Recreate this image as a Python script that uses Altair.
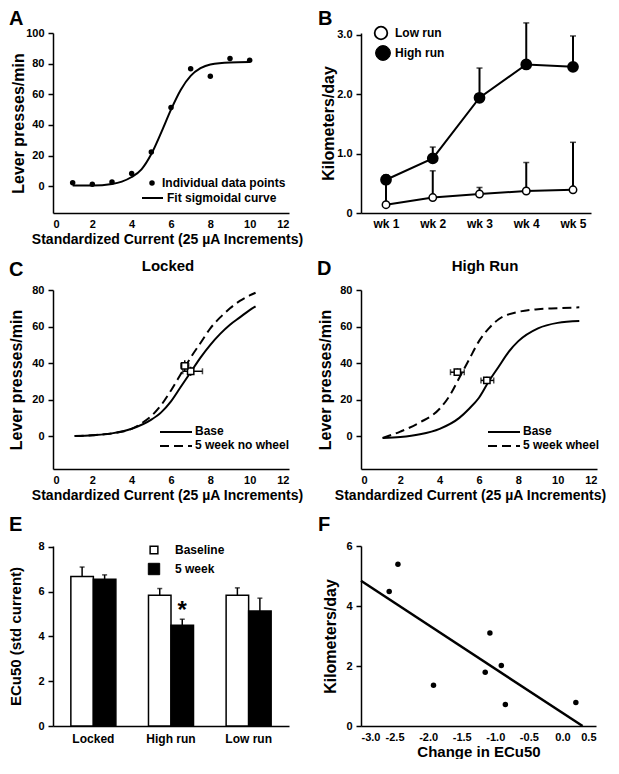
import altair as alt
import pandas as pd

FONT = "Liberation Sans"
W = 236
H = 180

# ---------------- Panel A ----------------
A_PTS_X = [1, 2, 3, 4, 5, 6, 7, 8, 9, 10]
A_PTS_Y = [2.2, 1.3, 2.8, 8.3, 22.4, 51.3, 76.7, 71.7, 83.3, 82.2]
A_FIT_X = [1, 2, 3, 3.5, 4, 4.5, 5, 5.5, 6, 6.5, 7, 7.5, 8, 9, 10]
A_FIT_Y = [0.5, 0.5, 1.5, 3, 6, 11, 21, 35, 50, 63, 72, 77, 79.5, 80.8, 81]

# ---------------- Panel B ----------------
WEEKS = [1, 2, 3, 4, 5]
HIGH_RUN = [0.56, 0.92, 1.94, 2.50, 2.46]
HIGH_RUN_ERR = [0.64, 1.11, 2.44, 3.20, 2.98]
LOW_RUN = [0.14, 0.26, 0.32, 0.37, 0.39]
LOW_RUN_ERR = [0.55, 0.71, 0.43, 0.85, 1.19]

# ---------------- Panel C ----------------
C_BASE_X = [1.1, 2, 3, 4, 5, 5.5, 6, 6.5, 7, 7.5, 8, 8.5, 9, 9.5, 10, 10.3]
C_BASE_Y = [0, 0.5, 1.5, 4, 9, 13, 19, 27, 35, 43, 50, 56, 61, 65, 69, 71]
C_WK_X = [1.1, 2, 3, 4, 4.5, 5, 5.5, 6, 6.5, 7, 7.5, 8, 8.5, 9, 9.5, 10, 10.3]
C_WK_Y = [0, 0.5, 1.5, 4, 7, 11, 17, 25, 34, 43, 51, 59, 65, 70, 74, 77, 78.5]
C_EC_X = [7.0, 6.7]
C_EC_Y = [35.5, 38.5]
C_EC_XLO = [6.6, 6.5]
C_EC_XHI = [7.6, 6.9]
C_EC_YLO = [33.0, 35.5]
C_EC_YHI = [38.0, 41.5]

# ---------------- Panel D ----------------
D_BASE_X = [1.1, 2, 3, 4, 5, 5.5, 6, 6.5, 7, 7.5, 8, 9, 10, 11.1]
D_BASE_Y = [-1, -0.5, 1, 4, 10, 15, 21, 30, 38, 46, 52, 59, 62, 63]
D_WK_X = [1.1, 2, 3, 4, 4.5, 5, 5.5, 6, 6.5, 7, 8, 9, 10, 11.1]
D_WK_Y = [-1, 2.5, 7.5, 15, 22, 32, 42, 52, 59, 64, 68, 69.5, 70, 70.5]
D_EC_X = [4.9, 6.4]
D_EC_Y = [35.0, 30.5]
D_EC_XLO = [4.55, 6.1]
D_EC_XHI = [5.25, 6.75]
D_EC_YLO = [33.0, 28.5]
D_EC_YHI = [37.0, 32.5]

# ---------------- Panel E ----------------
GROUPS = ["Locked", "High run", "Low run"]
SERIES = ["Baseline", "5 week"]
E_BASE = [6.68, 5.84, 5.84]
E_BASE_ERR = [7.10, 6.14, 6.17]
E_WEEK5 = [6.56, 4.50, 5.14]
E_WEEK5_ERR = [6.75, 4.77, 5.71]
E_STAR_Y = [4.82]

# ---------------- Panel F ----------------
F_X = [-2.58, -2.45, -1.92, -1.15, -1.08, -0.91, -0.85, 0.20]
F_Y = [4.48, 5.39, 1.36, 1.79, 3.10, 2.02, 0.72, 0.78]
F_LINE_X = [-3.0, 0.3]
F_LINE_Y = [4.84, 0.0]

# tick values
CUR_TICKS = [0, 2, 4, 6, 8, 10, 12]
A_Y_TICKS = [0, 20, 40, 60, 80, 100]
B_Y_TICKS = [0, 1, 2, 3]
CD_Y_TICKS = [0, 20, 40, 60, 80]
E_Y_TICKS = [0, 2, 4, 6, 8]
F_X_TICKS = [-3, -2.5, -2, -1.5, -1, -0.5, 0, 0.5]
F_Y_TICKS = [0, 2, 4, 6]


def ax(values=None, **kw):
    if values is not None:
        kw["values"] = values
        kw["tickCount"] = len(values)
    return alt.Axis(labelOverlap=False, **kw)


def txt(text, x, y, size=12, align="left", baseline="middle"):
    return alt.Chart(pd.DataFrame({"t": [text]})).mark_text(
        align=align, baseline=baseline, fontSize=size, font=FONT,
        fontWeight="bold", color="black"
    ).encode(text="t:N", x=alt.value(x), y=alt.value(y))


def hline(x1, x2, y, dash=None, width=2):
    kw = dict(color="black", strokeWidth=width)
    if dash is not None:
        kw["strokeDash"] = dash
    return alt.Chart(pd.DataFrame({"k": [0]})).mark_rule(**kw).encode(
        x=alt.value(x1), x2=alt.value(x2), y=alt.value(y))


def sym(x, y, shape, size, filled, sw=1.5):
    return alt.Chart(pd.DataFrame({"k": [0]})).mark_point(
        shape=shape, size=size, filled=True,
        fill="black" if filled else "white", stroke="black",
        strokeWidth=sw, opacity=1
    ).encode(x=alt.value(x), y=alt.value(y))


def letter(ch, x, y):
    return txt(ch, x, y, size=20, baseline="top")


CUR_TITLE = "Standardized Current (25 µA Increments)"


def cur_axis(title_x):
    return ax(CUR_TICKS, title=CUR_TITLE, titleFontSize=14, titleX=title_x)


# ---------------- A ----------------
a_pts = pd.DataFrame({"x": A_PTS_X, "y": A_PTS_Y})
a_fit = pd.DataFrame({"x": A_FIT_X, "y": A_FIT_Y})
xA = alt.X("x:Q", scale=alt.Scale(domain=[0, 12], nice=False), axis=cur_axis(114))
yA = alt.Y("y:Q", scale=alt.Scale(domain=[-17.5, 100], nice=False),
           axis=ax(A_Y_TICKS, title="Lever presses/min", titleX=-27))
panelA = alt.layer(
    alt.Chart(a_fit).mark_line(color="black", strokeWidth=2, interpolate="monotone").encode(x=xA, y=yA),
    alt.Chart(a_pts).mark_circle(color="black", size=30, opacity=1).encode(x="x:Q", y="y:Q"),
    sym(99, 150, "circle", 30, True, 0),
    txt("Individual data points", 109, 150),
    hline(89, 110, 165),
    txt("Fit sigmoidal curve", 114, 165),
    letter("A", -44, -24.5),
).properties(width=W, height=H)

# ---------------- B ----------------
b = pd.DataFrame({
    "wk": WEEKS * 2,
    "val": HIGH_RUN + LOW_RUN,
    "err": HIGH_RUN_ERR + LOW_RUN_ERR,
    "grp": ["High run"] * 5 + ["Low run"] * 5,
})
xB = alt.X("wk:Q", scale=alt.Scale(domain=[0.465, 5.385], nice=False),
           axis=ax(WEEKS, labelExpr="'wk ' + datum.value", title=None, labelFontSize=12))
yB = alt.Y("val:Q", scale=alt.Scale(domain=[0, 3.03], nice=False),
           axis=ax(B_Y_TICKS, title="Kilometers/day", titleX=-25,
                   labelExpr="datum.value == 0 ? '0' : format(datum.value, '.1f')"))
baseB = alt.Chart(b)
panelB = alt.layer(
    baseB.mark_rule(color="black", strokeWidth=2).encode(x=xB, y=yB, y2="err:Q"),
    baseB.mark_tick(orient="horizontal", size=6, thickness=1.5, color="black").encode(x="wk:Q", y="err:Q"),
    baseB.mark_line(color="black", strokeWidth=2).encode(x="wk:Q", y="val:Q", detail="grp:N"),
    baseB.transform_filter("datum.grp == 'High run'").mark_point(
        shape="circle", size=95, filled=True, fill="black", stroke="black", opacity=1
    ).encode(x="wk:Q", y="val:Q"),
    baseB.transform_filter("datum.grp == 'Low run'").mark_point(
        shape="circle", size=55, filled=True, fill="white", stroke="black", strokeWidth=1.5, opacity=1
    ).encode(x="wk:Q", y="val:Q"),
    sym(20, 0, "circle", 160, False, 1.8),
    sym(22, 20, "circle", 220, True, 1),
    txt("Low run", 34, 0),
    txt("High run", 34, 20),
    letter("B", -43, -24.5),
).properties(width=230, height=H)


# ---------------- C / D helper ----------------
def sigmoid_panel(bx, by, wx, wy, ex, ey, exlo, exhi, eylo, eyhi, title, title_x,
                  leg2, leg_x, titleX, xtitle_x, letter_ch, letter_y):
    base = pd.DataFrame({"x": bx, "y": by})
    wk = pd.DataFrame({"x": wx, "y": wy})
    ec = pd.DataFrame({"x": ex, "y": ey, "xlo": exlo, "xhi": exhi, "ylo": eylo, "yhi": eyhi})
    xs = alt.X("x:Q", scale=alt.Scale(domain=[0, 12], nice=False), axis=cur_axis(xtitle_x))
    ys = alt.Y("y:Q", scale=alt.Scale(domain=[-18, 80], nice=False),
               axis=ax(CD_Y_TICKS, title="Lever presses/min", titleX=titleX))
    ecc = alt.Chart(ec)
    return alt.layer(
        alt.Chart(base).mark_line(color="black", strokeWidth=2, interpolate="monotone").encode(x=xs, y=ys),
        alt.Chart(wk).mark_line(color="black", strokeWidth=2, strokeDash=[9, 5],
                                interpolate="monotone").encode(x="x:Q", y="y:Q"),
        ecc.mark_rule(color="black", strokeWidth=1.5).encode(x="xlo:Q", x2="xhi:Q", y="y:Q"),
        ecc.mark_rule(color="black", strokeWidth=1.5).encode(x="x:Q", y="ylo:Q", y2="yhi:Q"),
        ecc.mark_tick(orient="vertical", size=6, thickness=1.5, color="black").encode(x="xlo:Q", y="y:Q"),
        ecc.mark_tick(orient="vertical", size=6, thickness=1.5, color="black").encode(x="xhi:Q", y="y:Q"),
        ecc.mark_point(shape="square", size=40, filled=True, fill="white", stroke="black",
                       strokeWidth=1.5, opacity=1).encode(x="x:Q", y="y:Q"),
        hline(leg_x, leg_x + 32, 142),
        txt("Base", leg_x + 35, 141),
        hline(leg_x, leg_x + 32, 156, dash=[9, 5]),
        txt(leg2, leg_x + 35, 155),
        txt(title, title_x, -19, size=15, align="center", baseline="alphabetic"),
        letter(letter_ch, -44, letter_y),
    ).properties(width=W, height=179)


panelC = sigmoid_panel(C_BASE_X, C_BASE_Y, C_WK_X, C_WK_Y, C_EC_X, C_EC_Y,
                       C_EC_XLO, C_EC_XHI, C_EC_YLO, C_EC_YHI,
                       "Locked", 115, "5 week no wheel", 107, -29, 114, "C", -30.5)
panelD = sigmoid_panel(D_BASE_X, D_BASE_Y, D_WK_X, D_WK_Y, D_EC_X, D_EC_Y,
                       D_EC_XLO, D_EC_XHI, D_EC_YLO, D_EC_YHI,
                       "High Run", 124, "5 week wheel", 127, -28, 109, "D", -31.5)

# ---------------- E ----------------
e = pd.DataFrame({
    "grp": GROUPS * 2,
    "series": [SERIES[0]] * 3 + [SERIES[1]] * 3,
    "val": E_BASE + E_WEEK5,
    "err": E_BASE_ERR + E_WEEK5_ERR,
})
star = pd.DataFrame({"grp": ["High run"], "series": ["5 week"], "val": E_STAR_Y, "t": ["*"]})
xE = alt.X("grp:N", scale=alt.Scale(domain=GROUPS, paddingInner=0.42, paddingOuter=0.23),
           axis=ax(title=None, labelAngle=0, labelFontSize=12, labelPadding=7))
xoE = alt.XOffset("series:N", scale=alt.Scale(domain=SERIES))
yE = alt.Y("val:Q", scale=alt.Scale(domain=[0, 8.04], nice=False),
           axis=ax(E_Y_TICKS, title="ECu50 (std current)", titleX=-30, titleFontSize=15))
eb = alt.Chart(e)
panelE = alt.layer(
    eb.mark_rule(color="black", strokeWidth=1.5).encode(x=xE, xOffset=xoE, y=yE, y2="err:Q"),
    eb.mark_tick(orient="horizontal", size=5, thickness=1.5, color="black").encode(
        x="grp:N", xOffset="series:N", y="err:Q"),
    eb.mark_bar(stroke="black", strokeWidth=1.5).encode(
        x="grp:N", xOffset="series:N", y="val:Q",
        fill=alt.Fill("series:N", scale=alt.Scale(domain=SERIES, range=["white", "black"]), legend=None)),
    alt.Chart(star).mark_text(fontSize=24, font=FONT, fontWeight="bold", baseline="alphabetic",
                              color="black").encode(x="grp:N", xOffset="series:N", y="val:Q", text="t:N"),
    sym(101, 4, "square", 60, False, 1.5),
    sym(101, 23, "square", 130, True, 1),
    txt("Baseline", 122, 4),
    txt("5 week", 122, 23),
    letter("E", -44, -31.5),
).properties(width=W, height=H)

# ---------------- F ----------------
f_pts = pd.DataFrame({"x": F_X, "y": F_Y})
f_line = pd.DataFrame({"x": F_LINE_X, "y": F_LINE_Y})
xF = alt.X("x:Q", scale=alt.Scale(domain=[-3, 0.5], nice=False),
           axis=ax(F_X_TICKS, title="Change in ECu50", titlePadding=2,
                   labelExpr="(datum.value < 0 ? '-' : '') + format(abs(datum.value), '.1f')"))
yF = alt.Y("y:Q", scale=alt.Scale(domain=[0, 6], nice=False),
           axis=ax(F_Y_TICKS, title="Kilometers/day", titleX=-23))
panelF = alt.layer(
    alt.Chart(f_line).mark_line(color="black", strokeWidth=2.5).encode(x=xF, y=yF),
    alt.Chart(f_pts).mark_circle(color="black", size=30, opacity=1).encode(x="x:Q", y="y:Q"),
    letter("F", -43, -31.5),
).properties(width=235, height=H)

chart = alt.concat(
    panelA, panelB, panelC, panelD, panelE, panelF,
    columns=2, spacing={"row": 77, "column": 72}, bounds="flush",
).properties(
    padding={"left": 0, "top": 0, "right": 0, "bottom": 0}
).configure_axis(
    domainColor="black", domainWidth=1.5, tickColor="black", tickWidth=1.5,
    labelColor="black", titleColor="black", labelFont=FONT, titleFont=FONT,
    labelFontWeight="bold", titleFontWeight="bold", labelFontSize=11,
    titleFontSize=16, grid=False, labelOverlap=False,
).configure_axisX(
    ticks=False, labelPadding=5, titlePadding=3, titleFontSize=15,
).configure_axisY(
    tickSize=5, labelPadding=4,
).configure_view(stroke=None)

chart.save("out.html", embed_options={"renderer": "svg", "actions": False})
